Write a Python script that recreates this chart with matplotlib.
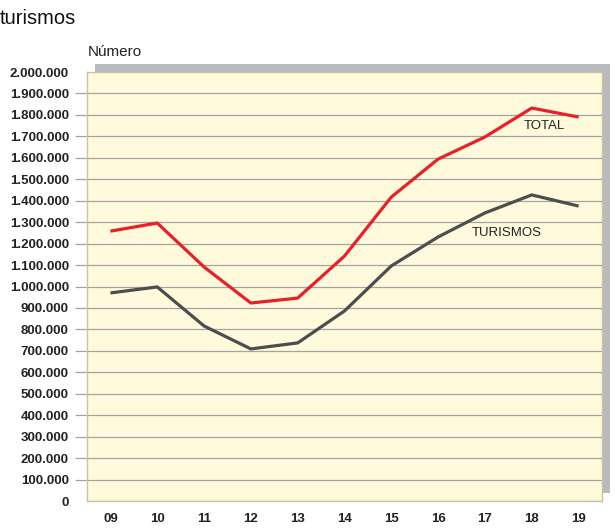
import matplotlib.pyplot as plt
from matplotlib.patches import Rectangle
from matplotlib.ticker import FuncFormatter

plt.rcParams['font.family'] = ['Liberation Sans', 'DejaVu Sans']

# datos
anios = ['09', '10', '11', '12', '13', '14', '15', '16', '17', '18', '19']
total = [1258000, 1296000, 1091000, 923000, 946000, 1142000,
         1417000, 1594000, 1697000, 1832000, 1790000]
turismos = [970000, 998000, 816000, 709000, 737000, 886000,
            1096000, 1231000, 1343000, 1427000, 1375000]
yticks = list(range(0, 2000001, 100000))

fig = plt.figure(figsize=(6.15, 5.32), dpi=100)
ax = fig.add_axes([87/615, 31/532, 515/615, 429/532])
ax.set_zorder(2)

# sombra gris detras del area de dibujo
sombra = Rectangle((95/615, 39/532), 515/615, 429/532, transform=fig.transFigure,
                   facecolor='#b9babe', edgecolor='none', zorder=1)
fig.patches.append(sombra)

ax.set_facecolor('#fffadc')
for s in ax.spines.values():
    s.set_color('#c9c3a5')
    s.set_linewidth(1)

x = range(len(anios))
ax.plot(x, total, color='#e8202a', lw=2.3, solid_capstyle='butt', zorder=3)
ax.plot(x, turismos, color='#4d4d4f', lw=2.3, solid_capstyle='butt', zorder=3)

ax.set_xlim(-0.5, 10.5)
ax.set_ylim(0, 2000000)
ax.set_yticks(yticks)
ax.yaxis.set_major_formatter(FuncFormatter(lambda v, p: f'{int(v):,}'.replace(',', '.')))
ax.set_xticks(list(x))
ax.set_xticklabels(anios)
ax.grid(axis='y', color='#a3a3a3', lw=0.9)
ax.set_axisbelow(True)
ax.tick_params(axis='y', length=9, color='#a3a3a3', width=0.9, pad=4,
               labelsize=9.5, labelcolor='#222222')
ax.tick_params(axis='x', length=0, pad=9, labelsize=9.5, labelcolor='#222222')
for t in ax.get_xticklabels() + ax.get_yticklabels():
    t.set_fontweight('bold')
# sin marca en 0 ni en 2.000.000
yt = ax.yaxis.get_major_ticks()
yt[0].tick1line.set_visible(False)
yt[-1].tick1line.set_visible(False)
yt[-1].gridline.set_visible(False)

ax.text(8.83, 1735000, 'TOTAL', fontsize=9.5, color='#222222')
ax.text(7.72, 1235000, 'TURISMOS', fontsize=9.5, color='#222222')

fig.text(0, 532 - 18, 'turismos', transform=None, fontsize=14.5, va='center', color='#111111')
fig.text(88, 532 - 52, 'Número', transform=None, fontsize=11, va='center', color='#222222')

fig.savefig('out.png', dpi=100)
